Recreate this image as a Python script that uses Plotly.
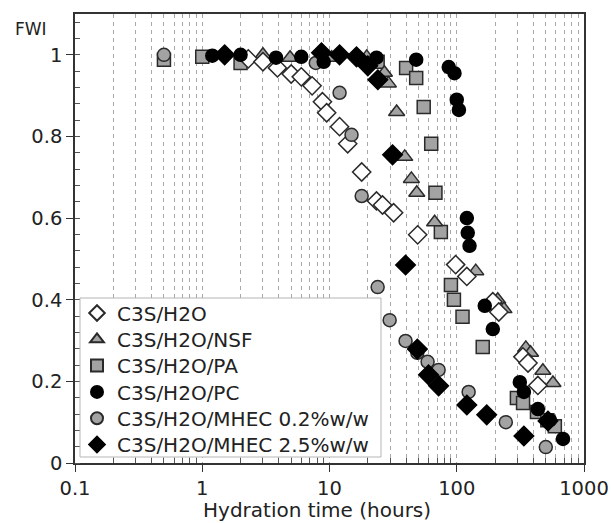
import plotly.graph_objects as go

# ---- data ----
h2o_t = [2.3, 3.0, 3.9, 5.0, 6.0, 7.3, 8.8, 9.5, 12.0, 13.9, 17.9, 23.4, 26.1, 31.9, 49.3, 98, 120, 192, 214, 331, 363, 434]
h2o_f = [0.99, 0.983, 0.968, 0.953, 0.946, 0.924, 0.885, 0.858, 0.824, 0.782, 0.713, 0.642, 0.632, 0.613, 0.559, 0.486, 0.457, 0.395, 0.37, 0.26, 0.245, 0.19]

nsf_t = [3.0, 4.9, 10.4, 19.6, 27, 29, 33.7, 39, 44, 48.5, 67, 141, 210, 235, 349, 380, 475, 570]
nsf_f = [1.0, 0.993, 0.993, 0.995, 0.956, 0.93, 0.86, 0.75, 0.696, 0.662, 0.59, 0.47, 0.40, 0.377, 0.282, 0.27, 0.226, 0.196]

pa_t = [0.5, 1.0, 2.0, 23.9, 40, 48, 55, 63, 68, 75, 90, 95, 111, 160, 297, 332, 427, 515, 590]
pa_f = [0.988, 0.995, 0.98, 0.983, 0.968, 0.943, 0.872, 0.782, 0.662, 0.566, 0.436, 0.40, 0.358, 0.284, 0.159, 0.147, 0.125, 0.105, 0.09]

pc_t = [1.2, 2.0, 3.8, 6.0, 9.0, 23.4, 48, 86.5, 96, 100, 104, 120, 122, 126, 166, 192, 313, 337, 434, 540, 684]
pc_f = [0.998, 1.0, 0.993, 0.995, 0.983, 0.993, 0.988, 0.97, 0.955, 0.89, 0.865, 0.60, 0.564, 0.532, 0.385, 0.328, 0.198, 0.174, 0.132, 0.105, 0.059]

m02_t = [0.5, 7.8, 12.0, 14.9, 17.9, 23.9, 29.7, 39.6, 49, 59, 72, 124, 243, 501]
m02_f = [1.0, 0.98, 0.907, 0.804, 0.654, 0.431, 0.35, 0.299, 0.27, 0.248, 0.228, 0.174, 0.10, 0.039]

m25_t = [1.5, 8.65, 12.0, 16.3, 20, 24, 31.3, 39.6, 49, 60, 72, 120, 172, 337, 521]
m25_f = [1.0, 1.005, 1.0, 0.995, 0.973, 0.939, 0.755, 0.485, 0.279, 0.216, 0.189, 0.142, 0.118, 0.066, 0.103]

names = ["C3S/H2O", "C3S/H2O/NSF", "C3S/H2O/PA", "C3S/H2O/PC",
         "C3S/H2O/MHEC 0.2%w/w", "C3S/H2O/MHEC 2.5%w/w"]

x_ticks = [0.1, 1, 10, 100, 1000]
x_ticktext = ["0.1", "1", "10", "100", "1000"]
y_ticks = [0, 0.2, 0.4, 0.6, 0.8, 1]
y_ticktext = ["0", "0.2", "0.4", "0.6", "0.8", "1"]

# minor positions
x_minor = [m * d for d in (0.1, 1, 10, 100) for m in range(2, 10)]
y_minor = [round(i * 0.04, 2) for i in range(0, 28)]

GRAY = "#a3a3a3"
EDGE = "#2a2a2a"
FONT = "DejaVu Sans"

# figure geometry (body margin removed by post_script, so page px == figure px)
W, H = 611, 523
ML, MR, MT, MB = 75, 27, 14, 60
PW, PH = W - ML - MR, H - MT - MB


def px_x(page_x):
    return (page_x - ML) / PW


def px_y(page_y):
    return (H - MB - page_y) / PH


series = [
    # (x, y, name, symbol, fill, size, legend row)
    (pa_t, pa_f, names[2], "square", GRAY, 13, 2),
    (nsf_t, nsf_f, names[1], "triangle-up", GRAY, 14, 1),
    (h2o_t, h2o_f, names[0], "diamond", "white", 14, 0),
    (m02_t, m02_f, names[4], "circle", GRAY, 13, 4),
    (pc_t, pc_f, names[3], "circle", "black", 13, 3),
    (m25_t, m25_f, names[5], "diamond", "black", 15, 5),
]

fig = go.Figure()
legend_layouts = {}
for xs, ys, nm, sym, fill, sz, row in series:
    key = "legend" if row == 0 else f"legend{row + 1}"
    fig.add_trace(go.Scatter(
        x=xs, y=ys, mode="markers", name=nm, legend=key,
        marker=dict(symbol=sym, size=sz, color=fill,
                    line=dict(color=EDGE if fill != "black" else "black", width=1.5)),
    ))
    legend_layouts[key] = dict(
        x=px_x(77), y=px_y(313 + 26.3 * row), xanchor="left", yanchor="middle",
        bgcolor="rgba(0,0,0,0)", borderwidth=0,
        font=dict(family=FONT, size=20, color="#222"),
        itemsizing="constant", itemwidth=30,
    )

fig.update_layout(
    width=W, height=H,
    margin=dict(l=ML, r=MR, t=MT, b=MB, autoexpand=False),
    paper_bgcolor="white", plot_bgcolor="white",
    font=dict(family=FONT, size=19.5, color="#222"),
    showlegend=True,
    xaxis=dict(
        type="log", range=[-1, 3], automargin=False,
        tickmode="array", tickvals=x_ticks, ticktext=x_ticktext,
        ticks="outside", ticklen=7, tickcolor="#333", tickwidth=1,
        showgrid=True, gridcolor="#a8a8a8", griddash="4px,4px", gridwidth=1,
        showline=True, linecolor="#333", linewidth=1.5, mirror=True,
        zeroline=False,
        minor=dict(tickmode="array", tickvals=x_minor, ticks="inside", ticklen=5,
                   tickcolor="#555", showgrid=True, gridcolor="#a8a8a8",
                   griddash="4px,4px", gridwidth=1),
    ),
    yaxis=dict(
        range=[0, 1.1], automargin=False,
        tickmode="array", tickvals=y_ticks, ticktext=y_ticktext,
        ticks="outside", ticklen=7, tickcolor="#333", tickwidth=1,
        showgrid=False, zeroline=False,
        showline=True, linecolor="#333", linewidth=1.5, mirror=True,
        minor=dict(tickmode="array", tickvals=y_minor, ticks="inside", ticklen=5,
                   tickcolor="#555", showgrid=False),
    ),
    shapes=[dict(type="rect", xref="paper", yref="paper", layer="above",
                 x0=px_x(80), x1=px_x(381), y0=px_y(457), y1=px_y(298),
                 fillcolor="white", line=dict(color="#b5b5b5", width=1))],
    annotations=[
        dict(text="FWI", xref="paper", yref="paper", x=px_x(13), y=px_y(29),
             xanchor="left", yanchor="middle", showarrow=False,
             font=dict(family=FONT, size=17, color="#222")),
        dict(text="Hydration time (hours)", xref="paper", yref="paper",
             x=px_x(317), y=px_y(510), xanchor="center", yanchor="middle",
             showarrow=False, font=dict(family=FONT, size=20, color="#222")),
    ],
)
fig.update_layout(**legend_layouts)

fig.write_html(
    "out.html",
    config={"displayModeBar": False},
    post_script="document.body.style.margin='0';document.body.style.overflow='hidden';",
)
